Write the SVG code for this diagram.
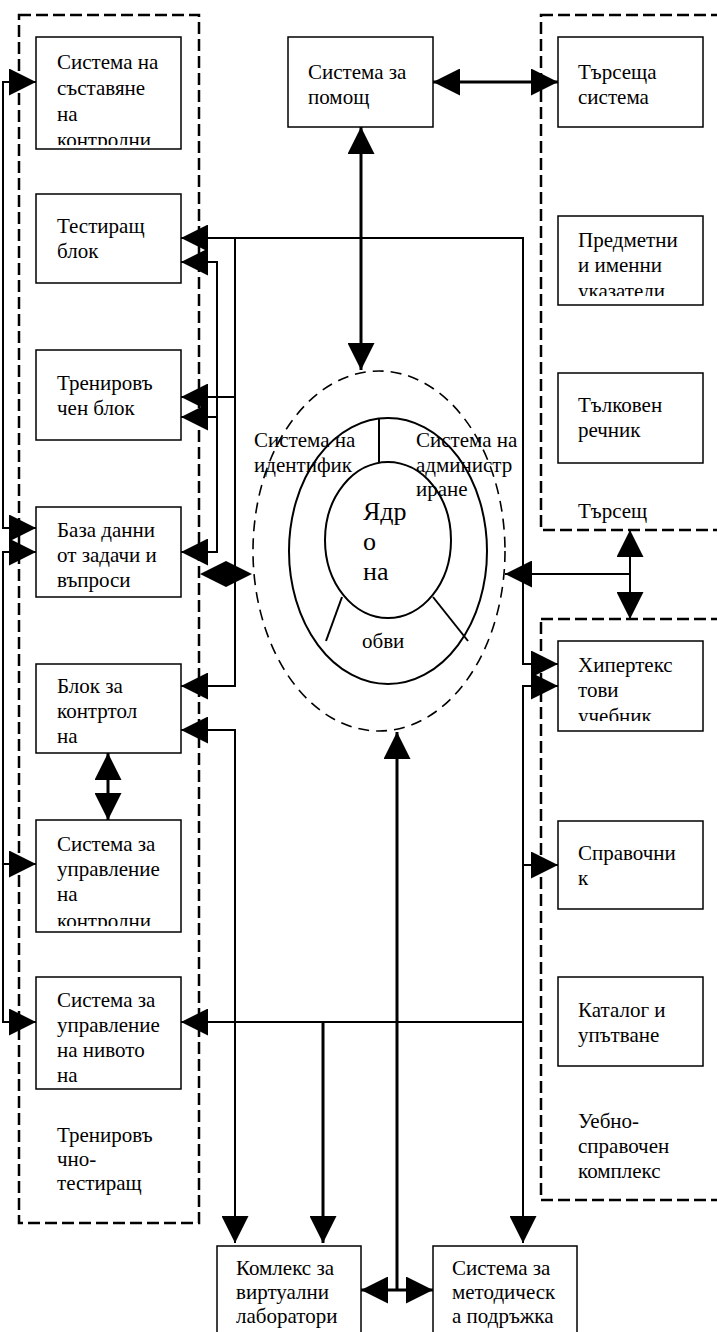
<svg xmlns="http://www.w3.org/2000/svg" width="717" height="1332" viewBox="0 0 717 1332">
<style>
.box{fill:#fff;stroke:#000;stroke-width:1.5}
.grp{fill:none;stroke:#000;stroke-width:2.5;stroke-dasharray:12 5}
.t{font-family:"Liberation Serif","Times New Roman",serif;font-size:21px;fill:#000}
.big{font-size:26px}
.c{fill:none;stroke:#000;stroke-width:2}
.ck{fill:none;stroke:#000;stroke-width:3}
.ring{fill:none;stroke:#000;stroke-width:2}
.dring{fill:none;stroke:#000;stroke-width:1.6;stroke-dasharray:11 7}
</style>
<defs>
<marker id="ah" viewBox="0 0 27 27" refX="27" refY="13.5" markerWidth="27" markerHeight="27" markerUnits="userSpaceOnUse" orient="auto-start-reverse"><path d="M0,0 L27,13.5 L0,27 z" fill="#000"/></marker>
<clipPath id="cp1"><rect x="36" y="37" width="145" height="108"/></clipPath>
<clipPath id="cp6"><rect x="36" y="820" width="145" height="106"/></clipPath>
<clipPath id="cp7"><rect x="36" y="977" width="145" height="108"/></clipPath>
<clipPath id="cpP"><rect x="558" y="216" width="145" height="80"/></clipPath>
<clipPath id="cpH"><rect x="558" y="641" width="145" height="80"/></clipPath>
</defs>
<rect width="717" height="1332" fill="#fff"/>

<g id="groups">
<g id="grp-training"><rect class="grp" x="19" y="15" width="180" height="1208"/>
<text class="t" x="57" y="1142">Тренировъ</text><text class="t" x="57" y="1166">чно-</text><text class="t" x="57" y="1190">тестиращ</text></g>
<g id="grp-search"><rect class="grp" x="541" y="15" width="200" height="515"/>
<text class="t" x="578" y="518">Търсещ</text></g>
<g id="grp-reference"><rect class="grp" x="541" y="619" width="200" height="581"/>
<text class="t" x="578" y="1128">Уебно-</text><text class="t" x="578" y="1153">справочен</text><text class="t" x="578" y="1178">комплекс</text></g>
</g>

<g id="connectors">
<path class="c" d="M36,82 H3 V528 H36" marker-start="url(#ah)" marker-end="url(#ah)"/>
<path class="c" d="M36,552 H3 V1022 H36" marker-start="url(#ah)" marker-end="url(#ah)"/>
<path class="c" d="M3,864 H36" marker-end="url(#ah)"/>
<path class="c" d="M181,238 H523 V664 H558" marker-start="url(#ah)" marker-end="url(#ah)"/>
<path class="c" d="M235,238 V686 H181" marker-end="url(#ah)"/>
<path class="c" d="M235,397 H181" marker-end="url(#ah)"/>
<path class="c" d="M181,262 H217 V552 H181" marker-start="url(#ah)" marker-end="url(#ah)"/>
<path class="c" d="M217,417 H181" marker-end="url(#ah)"/>
<polygon points="200,574 226,561 252,574 226,587" fill="#000"/>
<path class="c" d="M181,730 H235 V1243" marker-start="url(#ah)" marker-end="url(#ah)"/>
<path class="c" d="M181,1022 H523" marker-start="url(#ah)"/>
<path class="c" d="M558,686 H523 V1243" marker-start="url(#ah)" marker-end="url(#ah)"/>
<path class="c" d="M523,865 H558" marker-end="url(#ah)"/>
<path class="ck" d="M323,1022 V1243" marker-end="url(#ah)"/>
<path class="ck" d="M397,732 V1290" marker-start="url(#ah)"/>
<path class="ck" d="M361,1290 H433" marker-start="url(#ah)" marker-end="url(#ah)"/>
<path class="ck" d="M361,127 V370" marker-start="url(#ah)" marker-end="url(#ah)"/>
<path class="ck" d="M433,82 H558" marker-start="url(#ah)" marker-end="url(#ah)"/>
<path class="c" d="M630,530 V619" marker-start="url(#ah)" marker-end="url(#ah)"/>
<path class="c" d="M630,574 H505" marker-end="url(#ah)"/>
<path class="ck" d="M108,753 V820" marker-start="url(#ah)" marker-end="url(#ah)"/>
</g>

<g id="n-compose"><rect class="box" x="36" y="37" width="145" height="112"/>
<g clip-path="url(#cp1)"><text class="t" x="57" y="69">Система на</text><text class="t" x="57" y="95">съставяне</text><text class="t" x="57" y="121">на</text><text class="t" x="57" y="147">контролни</text></g></g>
<g id="n-testing"><rect class="box" x="36" y="194" width="145" height="89"/>
<text class="t" x="57" y="233">Тестиращ</text><text class="t" x="57" y="258">блок</text></g>
<g id="n-training"><rect class="box" x="36" y="350" width="145" height="90"/>
<text class="t" x="57" y="390">Тренировъ</text><text class="t" x="57" y="415">чен блок</text></g>
<g id="n-database"><rect class="box" x="36" y="507" width="145" height="90"/>
<text class="t" x="57" y="537">База данни</text><text class="t" x="57" y="562">от задачи и</text><text class="t" x="57" y="587">въпроси</text></g>
<g id="n-control"><rect class="box" x="36" y="664" width="145" height="89"/>
<text class="t" x="57" y="693">Блок за</text><text class="t" x="57" y="718">контртол</text><text class="t" x="57" y="743">на</text></g>
<g id="n-manage-control"><rect class="box" x="36" y="820" width="145" height="112"/>
<g clip-path="url(#cp6)"><text class="t" x="57" y="851">Система за</text><text class="t" x="57" y="876">управление</text><text class="t" x="57" y="901">на</text><text class="t" x="57" y="928">контролни</text></g></g>
<g id="n-manage-level"><rect class="box" x="36" y="977" width="145" height="112"/>
<g clip-path="url(#cp7)"><text class="t" x="57" y="1007">Система за</text><text class="t" x="57" y="1032">управление</text><text class="t" x="57" y="1057">на нивото</text><text class="t" x="57" y="1082">на</text></g></g>

<g id="n-help"><rect class="box" x="288" y="37" width="145" height="90"/>
<text class="t" x="308" y="79">Система за</text><text class="t" x="308" y="104">помощ</text></g>

<g id="n-search"><rect class="box" x="558" y="37" width="145" height="90"/>
<text class="t" x="578" y="79">Търсеща</text><text class="t" x="578" y="104">система</text></g>
<g id="n-indexes"><rect class="box" x="558" y="216" width="145" height="89"/>
<g clip-path="url(#cpP)"><text class="t" x="578" y="247">Предметни</text><text class="t" x="578" y="272">и именни</text><text class="t" x="578" y="298">указатели</text></g></g>
<g id="n-dictionary"><rect class="box" x="558" y="373" width="145" height="90"/>
<text class="t" x="578" y="412">Тълковен</text><text class="t" x="578" y="437">речник</text></g>

<g id="n-hypertext"><rect class="box" x="558" y="641" width="145" height="90"/>
<g clip-path="url(#cpH)"><text class="t" x="578" y="672">Хипертекс</text><text class="t" x="578" y="697">тови</text><text class="t" x="578" y="723">учебник</text></g></g>
<g id="n-handbook"><rect class="box" x="558" y="821" width="145" height="88"/>
<text class="t" x="578" y="860">Справочни</text><text class="t" x="578" y="885">к</text></g>
<g id="n-catalog"><rect class="box" x="558" y="977" width="145" height="89"/>
<text class="t" x="578" y="1017">Каталог и</text><text class="t" x="578" y="1042">упътване</text></g>

<g id="n-labs"><rect class="box" x="217" y="1246" width="144" height="100"/>
<text class="t" x="236" y="1275">Комлекс за</text><text class="t" x="236" y="1299">виртуални</text><text class="t" x="236" y="1323">лаборатори</text></g>
<g id="n-methodical"><rect class="box" x="433" y="1246" width="144" height="100"/>
<text class="t" x="452" y="1275">Система за</text><text class="t" x="452" y="1299">методическ</text><text class="t" x="452" y="1323">а подръжка</text></g>

<g id="n-core">
<ellipse class="dring" cx="379" cy="551" rx="126" ry="180"/>
<ellipse class="ring" cx="388" cy="551" rx="99" ry="133"/>
<ellipse class="ring" cx="388" cy="540" rx="63" ry="78"/>
<line class="ring" x1="379" y1="418" x2="379" y2="462"/>
<line class="ring" x1="342" y1="597" x2="326" y2="641"/>
<line class="ring" x1="433" y1="597" x2="468" y2="641"/>
<text class="t" x="254" y="447">Система на</text><text class="t" x="254" y="472">идентифик</text>
<text class="t" x="416" y="447">Система на</text><text class="t" x="416" y="472">администр</text><text class="t" x="416" y="496">иране</text>
<text class="t big" x="363" y="520">Ядр</text><text class="t big" x="363" y="550">о</text><text class="t big" x="363" y="580">на</text>
<text class="t" x="362" y="648">обви</text>
</g>
</svg>
